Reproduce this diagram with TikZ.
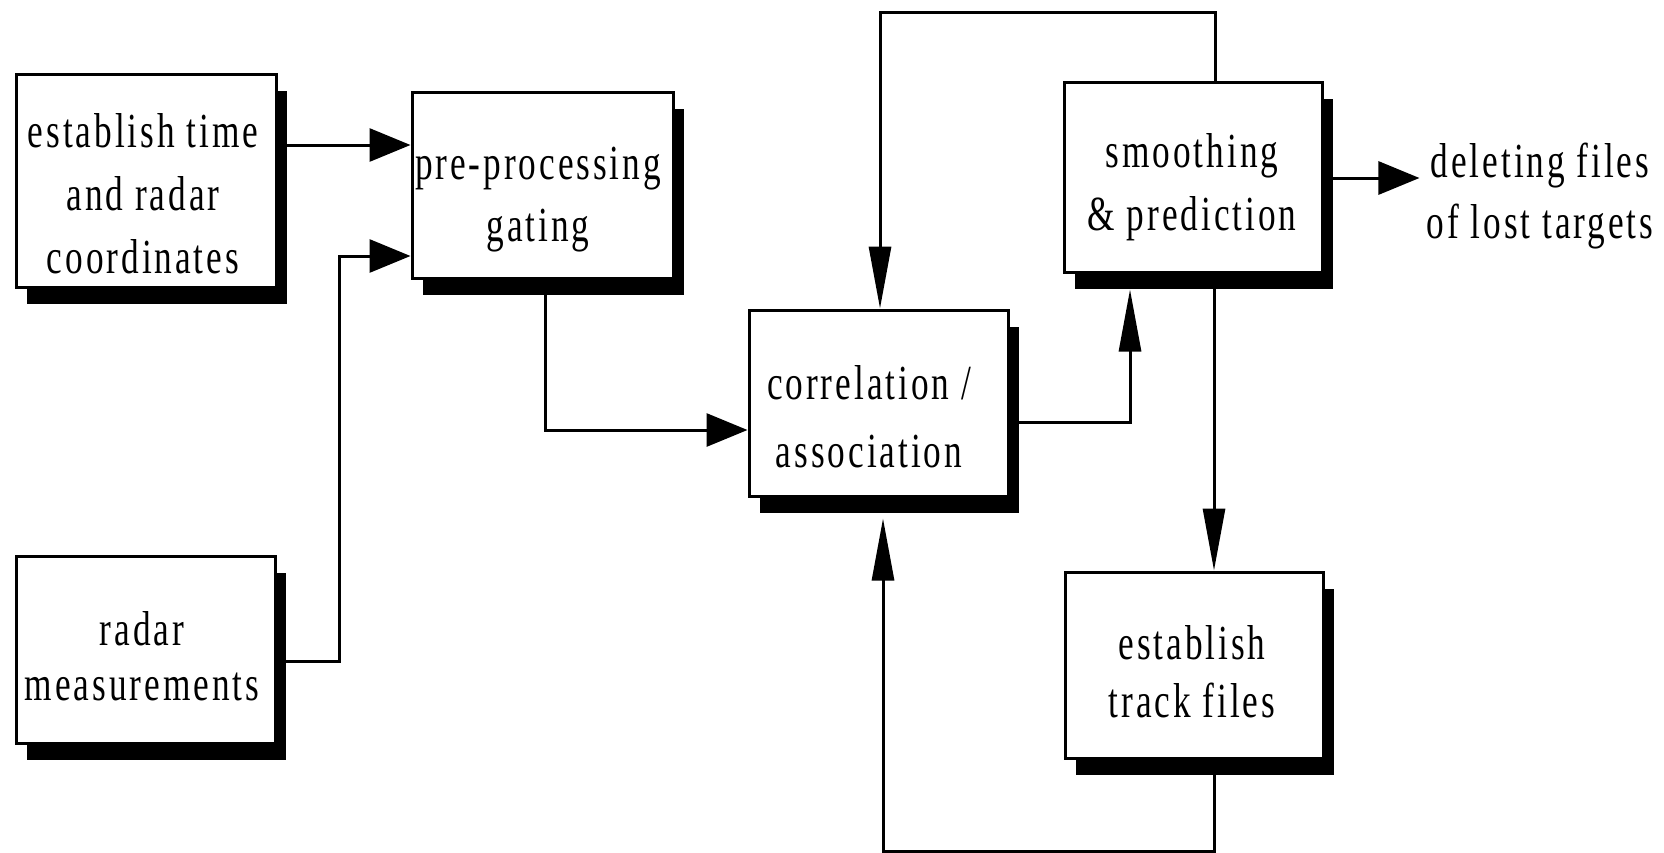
\documentclass[tikz,border=0pt]{standalone}
\usepackage{fontspec}
\setmainfont{Liberation Serif}[FakeStretch=0.72,LetterSpace=6]
\usetikzlibrary{arrows.meta,shadows}
\begin{document}
\begin{tikzpicture}[x=1pt,y=-1pt,
  box/.style={draw=black, line width=3pt, fill=white, inner sep=0pt,
    general shadow={fill=black, shadow xshift=11pt, shadow yshift=-17pt}},
  txt/.style={align=center, inner sep=0pt, font=\fontsize{49}{#1}\selectfont},
  harrow/.style={line width=3pt, -{Triangle[length=41pt,width=33pt]}},
  varrow/.style={line width=3pt, -{Triangle[length=62pt,width=22pt]}}]
\useasboundingbox (0,0) rectangle (1664,852);
% boxes
\node[box, minimum width=260pt, minimum height=213pt] (b1) at (146,180.5) {};
\node[box, minimum width=261pt, minimum height=186pt] (pre) at (542.5,185) {};
\node[box, minimum width=259pt, minimum height=187pt] (radar) at (145.5,649.5) {};
\node[box, minimum width=259pt, minimum height=186pt] (corr) at (878.5,403) {};
\node[box, minimum width=258pt, minimum height=190pt] (smooth) at (1193,177) {};
\node[box, minimum width=258pt, minimum height=186pt] (track) at (1194,665) {};
% texts
\node[txt=63] (b1t) at (143,193.3) {establish time\\and radar\\coordinates};
\node[txt=62] (pret) at (538,199.6) {pre-processing\\gating};
\node[txt=55] (radart) at (142,655.8) {radar\\measurements};
\node[txt=68] (corrt) at (869,417) {correlation /\\association};
\node[txt=63] (smootht) at (1192,187) {smoothing\\\& prediction};
\node[txt=58] (trackt) at (1192,672) {establish\\track files};
\node[txt=61] (del) at (1540,196) {deleting files\\of lost targets};
% connectors
\draw[harrow] ([yshift=35.5pt]b1.east) -- ([yshift=40pt]pre.west);
\draw[harrow] ([yshift=-11.5pt]radar.east) -| ([xshift=-71pt,yshift=-71pt]pre.west) -- ([yshift=-71pt]pre.west);
\draw[harrow] ([xshift=2.5pt]pre.south) |- ([yshift=-27pt]corr.west);
\draw[varrow] ([yshift=-19pt]corr.east) -| ([xshift=-63pt,yshift=-16pt]smooth.south);
\draw[harrow] ([yshift=-1pt]smooth.east) -- ([xshift=-7pt,yshift=18pt]del.west);
\draw[varrow] ([xshift=22pt]smooth.north) -- ++(0,-68) -| ([xshift=1.5pt]corr.north);
\draw[varrow] ([xshift=21pt]smooth.south) -- ([xshift=20pt]track.north);
\draw[varrow] ([xshift=20pt]track.south) -- ++(0,92) -| ([xshift=4.5pt,yshift=-21pt]corr.south);
\end{tikzpicture}
\end{document}
